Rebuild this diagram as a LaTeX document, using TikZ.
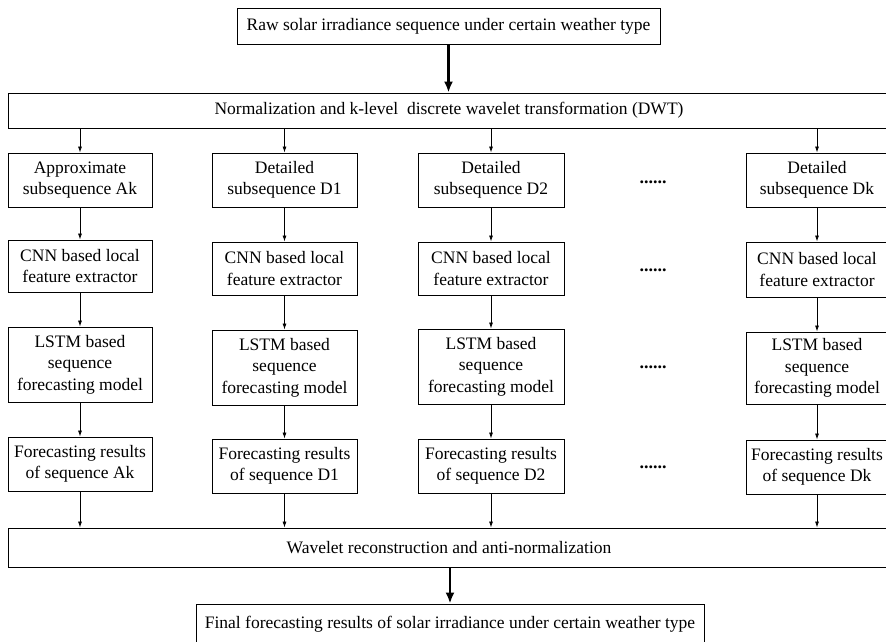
\documentclass[tikz,border=0pt]{standalone}
\usepackage{fontspec}
\setmainfont{Liberation Serif}
\usetikzlibrary{arrows.meta}
\tikzset{
  box/.style={draw, line width=0.9pt, inner sep=0pt, align=center, font=\fontsize{17.5}{21.5}\selectfont},
  thin arrow/.style={line width=0.8pt, -{Latex[length=6pt,width=4pt]}},
  thick arrow/.style={line width=2.6pt, -{Latex[length=11pt,width=9pt]}},
  dotsnode/.style={inner sep=0pt, font=\fontsize{18}{20}\selectfont\bfseries}
}
\begin{document}
\begin{tikzpicture}[x=1pt,y=-1pt]
\useasboundingbox (0,0) rectangle (886,642);
\clip (0,0) rectangle (886,642);
% top
\node[box, minimum width=423, minimum height=36] (raw) at (448.5,26) {Raw solar irradiance sequence under certain weather type};
\node[box, minimum width=882, minimum height=35] (norm) at (449,110.5) {Normalization and k-level\ \ discrete wavelet transformation (DWT)};
% column A
\node[box, minimum width=144, minimum height=54] (a1) at (80,180) {Approximate\\subsequence Ak};
\node[box, minimum width=144, minimum height=52] (a2) at (80,266) {CNN based local\\feature extractor};
\node[box, minimum width=144, minimum height=75] (a3) at (80,364.5) {LSTM based\\sequence\\forecasting model};
\node[box, minimum width=144, minimum height=54] (a4) at (80,464) {Forecasting results\\of sequence Ak};
% column D1
\node[box, minimum width=145, minimum height=54] (b1) at (284.5,180) {Detailed\\subsequence D1};
\node[box, minimum width=145, minimum height=53] (b2) at (284.5,268.5) {CNN based local\\feature extractor};
\node[box, minimum width=145, minimum height=75] (b3) at (284.5,367.5) {LSTM based\\sequence\\forecasting model};
\node[box, minimum width=145, minimum height=54] (b4) at (284.5,466) {Forecasting results\\of sequence D1};
% column D2
\node[box, minimum width=146, minimum height=54] (c1) at (491,180) {Detailed\\subsequence D2};
\node[box, minimum width=146, minimum height=53] (c2) at (491,268.5) {CNN based local\\feature extractor};
\node[box, minimum width=146, minimum height=75] (c3) at (491,366.5) {LSTM based\\sequence\\forecasting model};
\node[box, minimum width=146, minimum height=54] (c4) at (491,466) {Forecasting results\\of sequence D2};
% column Dk
\node[box, minimum width=142, minimum height=54] (d1) at (817,180) {Detailed\\subsequence Dk};
\node[box, minimum width=142, minimum height=55] (d2) at (817,269.5) {CNN based local\\feature extractor};
\node[box, minimum width=142, minimum height=72] (d3) at (817,368) {LSTM based\\sequence\\forecasting model};
\node[box, minimum width=142, minimum height=54] (d4) at (817,467) {Forecasting results\\of sequence Dk};
% dots
\node[dotsnode] (e1) at (653,182) {......};
\node[dotsnode] (e2) at (653,270) {......};
\node[dotsnode] (e3) at (653,367) {......};
\node[dotsnode] (e4) at (653,467) {......};
% bottom
\node[box, minimum width=882, minimum height=39] (wave) at (449,547.5) {Wavelet reconstruction and anti-normalization};
\node[box, minimum width=508, minimum height=40] (final) at (450,624) {Final forecasting results of solar irradiance under certain weather type};
% arrows
\draw[thick arrow] (raw.south) -- (raw.south |- norm.north);
\foreach \c in {a,b,c,d}{
  \draw[thin arrow] (norm.south -| \c1.north) -- (\c1.north);
  \draw[thin arrow] (\c1.south) -- (\c2.north);
  \draw[thin arrow] (\c2.south) -- (\c3.north);
  \draw[thin arrow] (\c3.south) -- (\c4.north);
  \draw[thin arrow] (\c4.south) -- (\c4.south |- wave.north);
}
\draw[thick arrow] (wave.south -| final.north) -- (final.north);
\end{tikzpicture}
\end{document}
